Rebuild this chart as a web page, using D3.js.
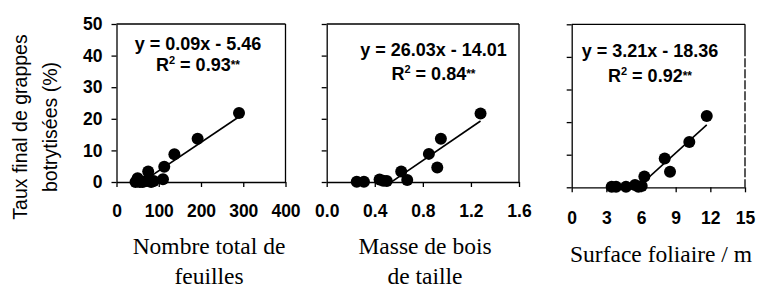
<!DOCTYPE html>
<html>
<head>
<meta charset="utf-8">
<script src="https://cdn.jsdelivr.net/npm/d3@7"></script>
<style>
  body { margin: 0; background: #fff; }
  svg { display: block; }
  .tick text { font-family: "Liberation Sans", Arial, sans-serif; font-weight: bold; font-size: 17.5px; fill: #000; }
  .eq { font-family: "Liberation Sans", Arial, sans-serif; font-weight: bold; font-size: 18px; }
  .xtitle { font-family: "Liberation Serif", "Times New Roman", serif; font-size: 23.5px; }
  .ytitle { font-family: "Liberation Sans", Arial, sans-serif; font-size: 19.5px; }
</style>
</head>
<body>
<div id="chart"></div>
<script>
const width = 758
const height = 289

// data
const leavesX = [45, 50, 55, 62, 70, 75, 82, 88, 110, 113, 137, 192, 290]
const leavesY = [0, 1.2, 0, 0, 0.3, 3.3, 0, 0.3, 0.9, 4.8, 8.8, 13.7, 21.8]

const woodX = [0.25, 0.31, 0.44, 0.47, 0.50, 0.62, 0.67, 0.85, 0.92, 0.95, 1.28]
const woodY = [0.1, 0.1, 0.8, 0.4, 0.3, 3.3, 0.6, 8.9, 4.6, 13.7, 21.7]

const areaX = [3.46, 3.84, 4.70, 5.48, 5.77, 6.06, 6.29, 8.05, 8.51, 10.18, 11.69]
const areaY = [0.2, 0.2, 0.2, 0.7, 0.2, 0.4, 3.3, 8.8, 4.8, 13.9, 21.9]

const slopes = [0.09, 26.03, 3.21]
const intercepts = [-5.46, -14.01, -18.36]
const r2Labels = ["0.93", "0.84", "0.92"]

const yTicks = [0, 10, 20, 30, 40, 50]
const xTicks1 = [0, 100, 200, 300, 400]
const xTicks2 = [0, 0.4, 0.8, 1.2, 1.6]
const xTicks3 = [0, 3, 6, 9, 12, 15]

const xTitles = [["Nombre total de", "feuilles"], ["Masse de bois", "de taille"], ["Surface foliaire / m"]]
const yTitle = ["Taux final de grappes", "botrytisées (%)"]

const svg = d3.select("#chart").append("svg")
    .attr("width", width)
    .attr("height", height)

const panels = [
  { xs: leavesX, ys: leavesY, ticks: xTicks1, fmt: d3.format("d"), dom: [0, 400],
    left: 116.5, right: 285.5, top: 24, bottom: 182, pad: 17.3, yLabels: true,
    eqX: 198, eqY: [50, 71], title: { x: 209, y: [254, 284], anchor: "middle" } },
  { xs: woodX, ys: woodY, ticks: xTicks2, fmt: d3.format(".1f"), dom: [0, 1.6],
    left: 326.7, right: 519, top: 24, bottom: 182, pad: 17.3, yLabels: false,
    eqX: 433.5, eqY: [56, 80], title: { x: 425, y: [254, 284], anchor: "middle" } },
  { xs: areaX, ys: areaY, ticks: xTicks3, fmt: d3.format("d"), dom: [0, 15],
    left: 571.7, right: 745, top: 24.3, bottom: 187.3, pad: 19, yLabels: false,
    eqX: 650, eqY: [56.5, 81.5], title: { x: 570, y: [262], anchor: "start" }, dashedRight: true }
]

panels.forEach(function(p, i) { drawPanel(p, i) })

function drawPanel(p, i) {
  let x = d3.scaleLinear().domain(p.dom).range([p.left, p.right])
  let y = d3.scaleLinear().domain([0, 50]).range([p.bottom, p.top])
  let g = svg.append("g")

  // frame: top and right borders
  g.append("line")
    .attr("x1", p.left).attr("x2", p.right)
    .attr("y1", p.top).attr("y2", p.top)
    .attr("stroke", "#000").attr("stroke-width", 1.3)
  let rightBorder = g.append("line")
    .attr("x1", p.right).attr("x2", p.right)
    .attr("y1", p.top).attr("y2", p.bottom)
    .attr("stroke", "#000").attr("stroke-width", 1.3)
  if (p.dashedRight) {
    // the scan shows this border broken into short dashes
    let dashes = [32, 2]
    for (let k = 0; k < 14; k++) dashes.push(9, 2)
    rightBorder.attr("stroke-dasharray", dashes.join(","))
  }

  let yAxis = d3.axisLeft(y).tickValues(yTicks).tickSize(5).tickSizeOuter(0).tickPadding(9)
  if (!p.yLabels) yAxis.tickFormat("")
  g.append("g")
    .attr("transform", "translate(" + p.left + ",0)")
    .call(yAxis)
    .call(styleAxis)

  let xAxis = d3.axisBottom(x).tickValues(p.ticks).tickFormat(p.fmt)
    .tickSize(5).tickSizeOuter(0).tickPadding(p.pad)
  g.append("g")
    .attr("transform", "translate(0," + p.bottom + ")")
    .call(xAxis)
    .call(styleAxis)

  // regression line, clipped to the plot area
  let clipId = "clip" + i
  svg.append("clipPath").attr("id", clipId)
    .append("rect")
    .attr("x", p.left).attr("y", p.top)
    .attr("width", p.right - p.left).attr("height", p.bottom - p.top)
  let ext = d3.extent(p.xs)
  let fit = ext.map(function(v) { return [v, slopes[i] * v + intercepts[i]] })
  g.append("path")
    .attr("clip-path", "url(#" + clipId + ")")
    .attr("d", d3.line().x(function(d) { return x(d[0]) }).y(function(d) { return y(d[1]) })(fit))
    .attr("fill", "none")
    .attr("stroke", "#000")
    .attr("stroke-width", 1.6)

  g.selectAll("circle.pt")
    .data(p.xs.map(function(v, k) { return [v, p.ys[k]] }))
    .enter().append("circle")
    .attr("class", "pt")
    .attr("cx", function(d) { return x(d[0]) })
    .attr("cy", function(d) { return y(d[1]) })
    .attr("r", 6)
    .attr("fill", "#000")

  // equation
  let sign = intercepts[i] < 0 ? " - " : " + "
  g.append("text").attr("class", "eq")
    .attr("x", p.eqX).attr("y", p.eqY[0])
    .attr("text-anchor", "middle")
    .text("y = " + slopes[i].toFixed(2) + "x" + sign + Math.abs(intercepts[i]).toFixed(2))
  let r2 = g.append("text").attr("class", "eq")
    .attr("x", p.eqX).attr("y", p.eqY[1])
    .attr("text-anchor", "middle")
  r2.append("tspan").text("R")
  r2.append("tspan").attr("font-size", "11px").attr("dy", -7).text("2")
  r2.append("tspan").attr("dy", 7).text(" = " + r2Labels[i])
  r2.append("tspan").attr("font-size", "12px").attr("dy", -2).text("**")

  // x title
  let t = g.append("text").attr("class", "xtitle").attr("text-anchor", p.title.anchor)
  xTitles[i].forEach(function(line, k) {
    t.append("tspan").attr("x", p.title.x).attr("y", p.title.y[k]).text(line)
  })
}

function styleAxis(sel) {
  sel.select(".domain").attr("stroke", "#000").attr("stroke-width", 1.3)
  sel.selectAll(".tick line").attr("stroke", "#000").attr("stroke-width", 1.3)
  sel.attr("font-size", null).attr("font-family", null)
}

// y title, two rotated lines
let yt = svg.append("text").attr("class", "ytitle")
  .attr("transform", "translate(0,127) rotate(-90)")
  .attr("text-anchor", "middle")
yTitle.forEach(function(line, k) {
  yt.append("tspan").attr("x", 0).attr("y", [27, 57][k]).text(line)
})
</script>
</body>
</html>
